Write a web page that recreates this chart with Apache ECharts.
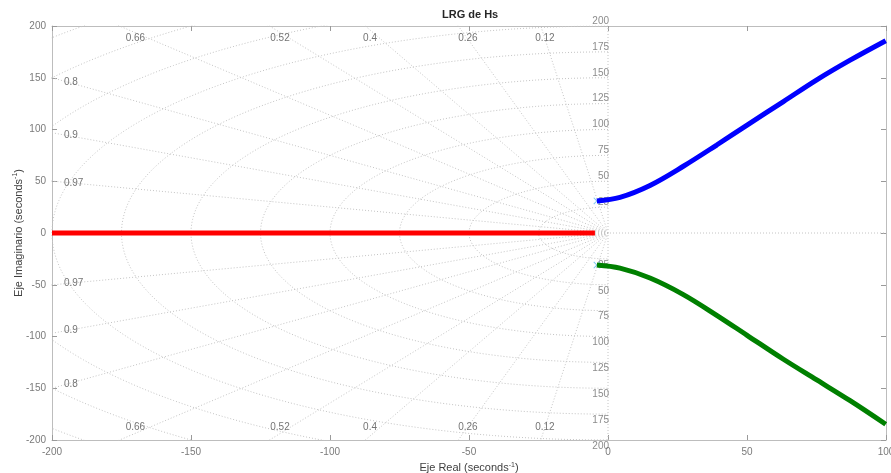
<!DOCTYPE html>
<html>
<head>
<meta charset="utf-8">
<script src="https://cdn.jsdelivr.net/npm/echarts@6/dist/echarts.min.js"></script>
<style>
  html, body { margin: 0; padding: 0; background: #fff; }
  #chart { width: 891px; height: 473px; }
</style>
</head>
<body>
<div id="chart"></div>
<script>
// Root-locus branches (real part, imaginary part)
const redRe = [-200, -4.7];
const redIm = [0, 0];
const blueRe = [-4, 4.3, 15.1, 27.1, 39.1, 49.9, 63.1, 75.1, 87.1, 99.9];
const blueIm = [31, 34.5, 46, 64.5, 85, 104, 127, 148, 167, 185.8];
const greenRe = [-4, 4.3, 15.1, 27.1, 39.1, 49.9, 63.1, 75.1, 87.1, 99.9];
const greenIm = [-31, -34, -43.5, -59.5, -79.5, -98.6, -122, -142, -162, -184.8];

// Open-loop poles at the start of the complex branches
const poleRe = [-4, -4];
const poleIm = [31, -31];

// s-plane grid: damping ratios and natural frequencies
const zetaVals = [0.12, 0.26, 0.4, 0.52, 0.66, 0.8, 0.9, 0.97];
const wnVals = [25, 50, 75, 100, 125, 150, 175, 200, 225, 250, 275];
const wnLabelVals = [25, 50, 75, 100, 125, 150, 175, 200];

// Damping-ratio label anchors near the frame (top/bottom row and left column)
const zetaTopLabels = ['0.12', '0.26', '0.4', '0.52', '0.66'];
const zetaTopRe = [-22.7, -50.4, -85.6, -118, -170];
const zetaTopIm = 188;
const zetaLeftLabels = ['0.8', '0.9', '0.97'];
const zetaLeftIm = [146, 94, 48.3];
const zetaLeftRe = -195.7;

const FONT = 'Liberation Sans, Arial, sans-serif';
const gridStyle = { color: '#c4c4c4', width: 1, type: [1, 2] };

function zip(a, b) { return a.map((v, i) => [v, b[i]]); }

const series = [];

// Constant natural-frequency semicircles in the left half plane
wnVals.forEach(wn => {
  const pts = [];
  for (let k = 0; k <= 180; k++) {
    const a = Math.PI / 2 + (k / 180) * Math.PI;
    pts.push([wn * Math.cos(a), wn * Math.sin(a)]);
  }
  series.push({ type: 'line', data: pts, showSymbol: false, silent: true,
    lineStyle: gridStyle, z: 1 });
});

// Constant damping-ratio rays
zetaVals.forEach(z => {
  const th = Math.acos(z), R = 600;
  [1, -1].forEach(s => {
    series.push({ type: 'line', data: [[0, 0], [-R * Math.cos(th), s * R * Math.sin(th)]],
      showSymbol: false, silent: true, lineStyle: gridStyle, z: 1 });
  });
});

// Real and imaginary axes (dotted)
series.push({ type: 'line', data: [[-200, 0], [100, 0]], showSymbol: false, silent: true,
  lineStyle: gridStyle, z: 1 });
series.push({ type: 'line', data: [[0, -200], [0, 200]], showSymbol: false, silent: true,
  lineStyle: gridStyle, z: 1 });

// Natural-frequency labels on the imaginary axis
const wnLabelStyle = { show: true, color: '#6e6e6e', fontSize: 10, fontFamily: FONT,
  align: 'right', verticalAlign: 'middle', position: 'inside' };
series.push({ type: 'scatter', symbolSize: 0, silent: true, clip: false, z: 3,
  data: wnLabelVals.map(w => ({ value: [0, w], label: Object.assign({}, wnLabelStyle, { offset: [1, -5], formatter: String(w) }) }))
    .concat(wnLabelVals.map(w => ({ value: [0, -w], label: Object.assign({}, wnLabelStyle, { offset: [1, 6], formatter: String(w) }) })))
});

// Damping-ratio labels
const zLabelStyle = { show: true, color: '#505050', fontSize: 10, fontFamily: FONT,
  verticalAlign: 'middle', position: 'inside' };
const zData = [];
zetaTopLabels.forEach((t, i) => {
  [1, -1].forEach(s => zData.push({ value: [zetaTopRe[i], s * zetaTopIm],
    label: Object.assign({}, zLabelStyle, { align: 'center', formatter: t }) }));
});
zetaLeftLabels.forEach((t, i) => {
  [1, -1].forEach(s => zData.push({ value: [zetaLeftRe, s * zetaLeftIm[i]],
    label: Object.assign({}, zLabelStyle, { align: 'left', formatter: t }) }));
});
series.push({ type: 'scatter', symbolSize: 0, silent: true, clip: false, z: 3, data: zData });

// Pole markers (small crosses)
series.push({ type: 'scatter', data: zip(poleRe, poleIm), silent: true, z: 4,
  symbol: 'path://M0,1L1,0L5,4L9,0L10,1L6,5L10,9L9,10L5,6L1,10L0,9L4,5Z', symbolSize: 7,
  itemStyle: { color: '#58b6ec' } });

// Locus branches
series.push({ type: 'line', data: zip(redRe, redIm), showSymbol: false, z: 5,
  lineStyle: { color: '#ff0000', width: 5 } });
series.push({ type: 'line', data: zip(blueRe, blueIm), smooth: 0.35, showSymbol: false, z: 5,
  lineStyle: { color: '#0000ff', width: 5 } });
series.push({ type: 'line', data: zip(greenRe, greenIm), smooth: 0.35, showSymbol: false, z: 5,
  lineStyle: { color: '#008000', width: 5 } });

const axisLineStyle = { onZero: false, lineStyle: { color: '#bdbdbd', width: 1 } };
const tickStyle = { show: true, inside: true, length: 5, lineStyle: { color: '#9a9a9a' } };
const labelStyle = { color: '#7a7a7a', fontSize: 10, fontFamily: FONT };
const supRich = { sup: { fontSize: 7, verticalAlign: 'top', color: '#404040', padding: [0, 0, 6, 0] } };

const option = {
  backgroundColor: '#ffffff',
  animation: false,
  title: {
    text: 'LRG de Hs', left: 437, top: 4,
    textStyle: { fontSize: 11, fontWeight: 'bold', color: '#262626', fontFamily: FONT }
  },
  grid: { left: 52, right: 5, top: 26, bottom: 33, containLabel: false, outerBoundsMode: 'none' },
  xAxis: [
    { type: 'value', min: -200, max: 100, interval: 50, position: 'bottom',
      name: 'Eje Real (seconds{sup|-1})', nameLocation: 'middle', nameGap: 20,
      nameTextStyle: { color: '#404040', fontSize: 11, fontFamily: FONT, rich: supRich },
      axisLine: axisLineStyle, axisTick: tickStyle, axisLabel: Object.assign({ margin: 7 }, labelStyle),
      splitLine: { show: false } },
    { type: 'value', min: -200, max: 100, interval: 50, position: 'top',
      axisLine: axisLineStyle, axisTick: tickStyle, axisLabel: { show: false }, splitLine: { show: false } }
  ],
  yAxis: [
    { type: 'value', min: -200, max: 200, interval: 50, position: 'left',
      name: 'Eje Imaginario (seconds{sup|-1})', nameLocation: 'middle', nameGap: 27, nameRotate: 90,
      nameMoveOverlap: false,
      nameTextStyle: { color: '#404040', fontSize: 11, fontFamily: FONT, rich: supRich },
      axisLine: axisLineStyle, axisTick: tickStyle, axisLabel: Object.assign({ margin: 6 }, labelStyle),
      splitLine: { show: false } },
    { type: 'value', min: -200, max: 200, interval: 50, position: 'right',
      axisLine: axisLineStyle, axisTick: tickStyle, axisLabel: { show: false }, splitLine: { show: false } }
  ],
  series: series
};

const chart = echarts.init(document.getElementById('chart'), null, { renderer: 'canvas' });
chart.setOption(option);
</script>
</body>
</html>
